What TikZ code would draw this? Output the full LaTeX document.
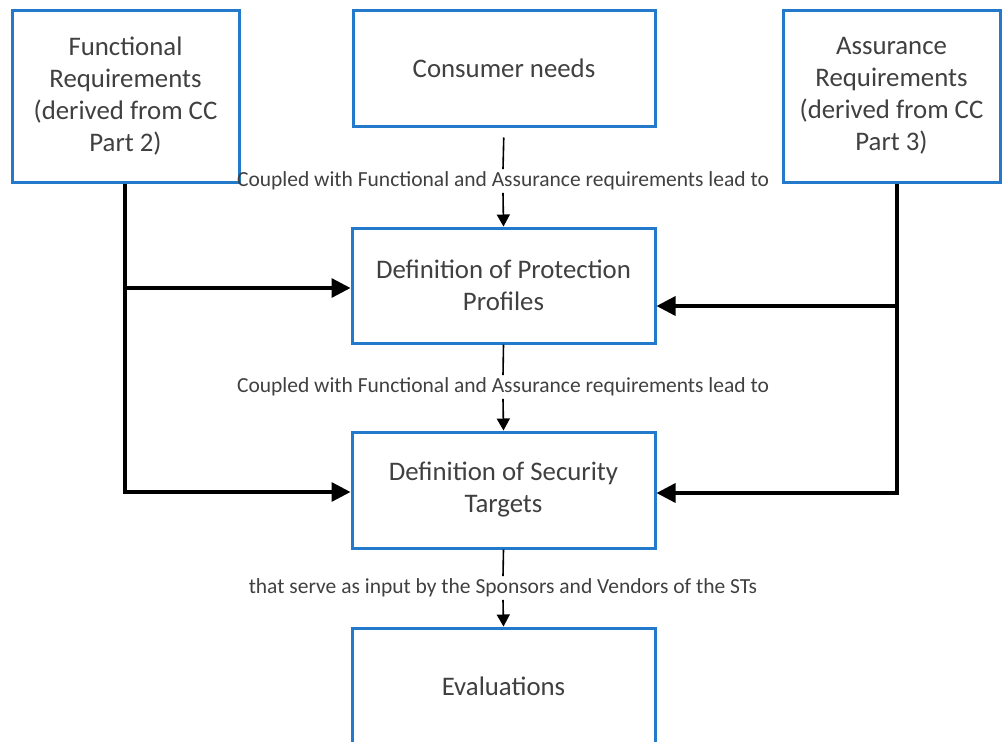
\documentclass[tikz,border=0pt]{standalone}
\usepackage{fontspec}
\setmainfont{Carlito}
\usetikzlibrary{arrows.meta}
\definecolor{boxblue}{RGB}{36,122,202}
\definecolor{txtgray}{RGB}{64,64,64}
\begin{document}
\begin{tikzpicture}[x=1pt,y=-1pt,
  blockbox/.style={draw=boxblue, line width=3pt, fill=white, align=center,
    text=txtgray, font=\fontsize{26.8}{32}\selectfont, inner sep=0pt},
  feed/.style={line width=3.3pt, -{Triangle[length=19pt,width=19pt]}},
  flowline/.style={line width=1.6pt},
  flowarrow/.style={line width=1.6pt, -{Triangle[length=12pt,width=13pt]}},
  steplabel/.style={text=txtgray, font=\fontsize{21.5}{25}\selectfont,
    inner xsep=1pt, inner ysep=2.5pt}]
\useasboundingbox (0,0) rectangle (1002,742);

% boxes
\node[blockbox, minimum width=227pt, minimum height=172pt] (fr) at (125.5,96)
  {Functional\\Requirements\\(derived from CC\\Part 2)};
\node[blockbox, minimum width=302pt, minimum height=116pt] (cn) at (504,68)
  {Consumer needs};
\node[blockbox, minimum width=217pt, minimum height=172pt] (ar) at (891.5,96)
  {Assurance\\Requirements\\(derived from CC\\Part 3)};
\node[blockbox, minimum width=303pt, minimum height=115pt] (pp) at (503.5,285.5)
  {Definition of Protection\\Profiles};
\node[blockbox, minimum width=303pt, minimum height=116pt] (st) at (503.5,490)
  {Definition of Security\\Targets};
\node[blockbox, minimum width=303pt, minimum height=116pt] (ev) at (503.5,686)
  {Evaluations};

% step labels between the central boxes
\node[steplabel] (l1) at (503,181)
  {Coupled with Functional and Assurance requirements lead to};
\node[steplabel] (l2) at (503,387)
  {Coupled with Functional and Assurance requirements lead to};
\node[steplabel] (l3) at (503,588)
  {that serve as input by the Sponsors and Vendors of the STs};

% central flow
\draw[flowline, shorten <=10pt] (cn.south) -- (l1.north);
\draw[flowarrow] (l1.south) -- (pp.north);
\draw[flowline] (pp.south) -- (l2.north);
\draw[flowarrow] (l2.south) -- (st.north);
\draw[flowline] (st.south) -- (l3.north);
\draw[flowarrow] (l3.south) -- (ev.north);

% functional requirements feed
\coordinate (fbend) at (125,492);
\coordinate (fjoin) at (125,288);
\draw[feed] (fr.south -| fbend) |- (st.west |- fbend);
\draw[feed] (fjoin) -- (pp.west |- fjoin);

% assurance requirements feed
\coordinate (abend) at (897,493);
\coordinate (ajoin) at (897,306);
\draw[feed] (ar.south -| abend) |- (st.east |- abend);
\draw[feed] (ajoin) -- (pp.east |- ajoin);
\end{tikzpicture}
\end{document}
